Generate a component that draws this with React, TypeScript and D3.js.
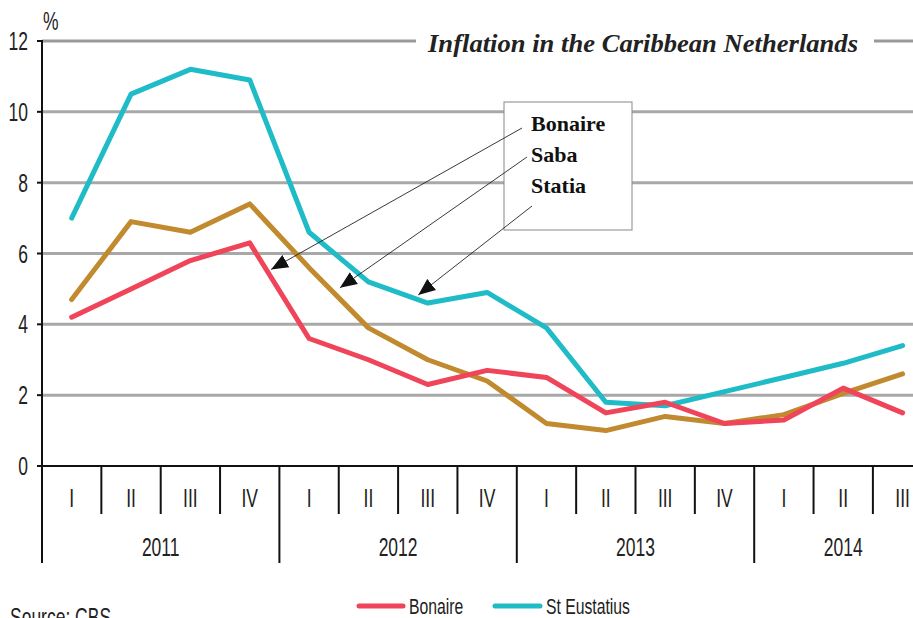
import React from "react";
import * as d3 from "d3";

const quarters = ["I","II","III","IV","I","II","III","IV","I","II","III","IV","I","II","III"];
const years = ["2011","2012","2013","2014"];
const bonaire = [4.2,5.0,5.8,6.3,3.6,3.0,2.3,2.7,2.5,1.5,1.8,1.2,1.3,2.2,1.5];
const saba = [4.7,6.9,6.6,7.4,5.6,3.9,3.0,2.4,1.2,1.0,1.4,1.2,1.45,2.05,2.6];
const statia = [7.0,10.5,11.2,10.9,6.6,5.2,4.6,4.9,3.9,1.8,1.7,2.1,2.5,2.9,3.4];
const yTicks = [0,2,4,6,8,10,12];
const callout = ["Bonaire","Saba","Statia"];
// arrow tips in data space (quarter position, value)
const arrowTargets = [
  { q: 3.86, v: 5.55 },
  { q: 5.02, v: 5.03 },
  { q: 6.34, v: 4.83 },
];

const W = 913, H = 618;
const COL = { bonaire: "#ef4459", saba: "#c28a2f", statia: "#1fbcc7" };
const FONT = "'Liberation Sans',Arial,sans-serif";
const SERIF = "'Liberation Serif','Times New Roman',serif";

function NText({ x, y, anchor = "start", size = 25, children }: any) {
  return (
    <text transform={`translate(${x},${y}) scale(0.7,1)`} textAnchor={anchor} fontFamily={FONT} fontSize={size} fill="#222">
      {children}
    </text>
  );
}

export default function App() {
  const x0 = 42;
  const qw = 59.35;
  const x = d3.scaleLinear().domain([0, 15]).range([x0, x0 + 15 * qw]);
  const y = d3.scaleLinear().domain([0, 12]).range([466, 41]);
  const line = d3.line<number>().x((_, i) => x(i + 0.5)).y(d => y(d));
  const series = [
    { data: statia, c: COL.statia },
    { data: saba, c: COL.saba },
    { data: bonaire, c: COL.bonaire },
  ];
  const boxX = 504, boxY = 102, boxW = 128, boxH = 128;
  const textY = [131, 162, 193];
  const arrowStarts = [[522, 128], [527, 157], [532, 206]];
  const tips = arrowTargets.map(a => [x(a.q), y(a.v)]);
  const yearCenters = [2, 6, 10, 13.5];
  return (
    <svg width={W} height={H} style={{ position: "absolute", left: 0, top: 0, background: "#fff" }}>
      <defs>
        <marker id="ah" viewBox="0 0 10 10" refX="10" refY="5" markerWidth="17" markerHeight="15" markerUnits="userSpaceOnUse" orient="auto" preserveAspectRatio="none">
          <path d="M0,0.3 L10,5 L0,9.7 Z" fill="#111" />
        </marker>
      </defs>
      {/* gridlines */}
      {yTicks.filter(t => t > 0).map(t => (
        t === 12 ? (
          <g key={t}>
            <line x1={x0} x2={416} y1={y(t)} y2={y(t)} stroke="#9a9a9a" strokeWidth={3} />
            <line x1={874} x2={W} y1={y(t)} y2={y(t)} stroke="#9a9a9a" strokeWidth={3} />
          </g>
        ) : (
          <line key={t} x1={x0} x2={W} y1={y(t)} y2={y(t)} stroke="#a8a8a8" strokeWidth={3} />
        )
      ))}
      {/* y axis */}
      <line x1={x0} x2={x0} y1={y(12) - 1} y2={563} stroke="#111" strokeWidth={2} />
      {yTicks.map(t => (
        <g key={t}>
          <line x1={x0 - 5} x2={x0} y1={y(t)} y2={y(t)} stroke="#111" strokeWidth={2} />
          <NText x={28} y={y(t) + 9} anchor="end">{t}</NText>
        </g>
      ))}
      <NText x={43} y={30}>%</NText>
      {/* x axis */}
      <line x1={x0 - 5} x2={W} y1={y(0)} y2={y(0)} stroke="#111" strokeWidth={2} />
      {quarters.map((q, i) => (
        <g key={i}>
          {i > 0 && (
            <line x1={x(i)} x2={x(i)} y1={y(0)} y2={i % 4 === 0 ? 563 : 514} stroke="#111" strokeWidth={2} />
          )}
          <NText x={x(i + 0.5)} y={507} anchor="middle">{q}</NText>
        </g>
      ))}
      {years.map((yr, i) => (
        <NText key={yr} x={x(yearCenters[i])} y={556} anchor="middle">{yr}</NText>
      ))}
      {/* series */}
      {series.map((s, i) => (
        <path key={i} d={line(s.data) || ""} fill="none" stroke={s.c} strokeWidth={5} strokeLinejoin="round" strokeLinecap="round" />
      ))}
      {/* title */}
      <text x={428} y={52} textLength={430} lengthAdjust="spacingAndGlyphs" fontFamily={SERIF} fontStyle="italic" fontWeight="bold" fontSize={26} fill="#222">Inflation in the Caribbean Netherlands</text>
      {/* callout */}
      <rect x={boxX} y={boxY} width={boxW} height={boxH} fill="#fff" stroke="#888" strokeWidth={1} />
      {callout.map((c, i) => (
        <text key={c} x={531} y={textY[i]} fontFamily={SERIF} fontWeight="bold" fontSize={22} fill="#111">{c}</text>
      ))}
      {arrowStarts.map((p, i) => (
        <line key={i} x1={p[0]} y1={p[1]} x2={tips[i][0]} y2={tips[i][1]} stroke="#222" strokeWidth={0.9} markerEnd="url(#ah)" />
      ))}
      {/* legend */}
      <line x1={359} x2={403} y1={606} y2={606} stroke={COL.bonaire} strokeWidth={5} strokeLinecap="round" />
      <NText x={409} y={614} size={22.5}>Bonaire</NText>
      <line x1={495} x2={540} y1={606} y2={606} stroke={COL.statia} strokeWidth={5} strokeLinecap="round" />
      <NText x={546} y={614} size={22.5}>St Eustatius</NText>
      <NText x={10} y={626} size={25}>Source: CBS</NText>
    </svg>
  );
}
